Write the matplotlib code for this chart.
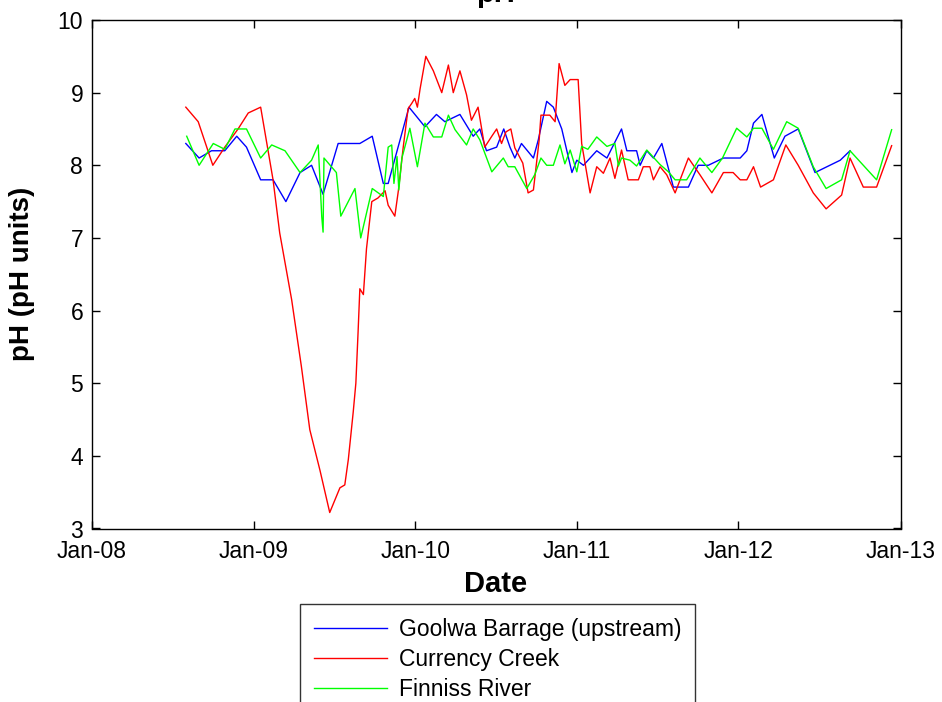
import matplotlib
matplotlib.use("Agg")
import matplotlib.pyplot as plt
import matplotlib.dates as mdates
import pandas as pd

plt.rcParams['font.family'] = ['Liberation Sans', 'DejaVu Sans']

# Goolwa Barrage (upstream)
goolwa_dates = [
    "2008-08-01", "2008-08-31", "2008-09-28", "2008-10-28", "2008-11-24", "2008-12-16",
    "2009-01-17", "2009-02-14", "2009-03-15", "2009-04-16", "2009-05-12", "2009-06-07",
    "2009-07-11", "2009-08-29", "2009-09-26", "2009-10-21", "2009-11-01", "2009-12-18",
    "2010-01-23", "2010-02-18", "2010-03-09", "2010-04-12", "2010-05-12", "2010-05-27",
    "2010-06-11", "2010-07-04", "2010-07-20", "2010-08-03", "2010-08-14", "2010-08-29",
    "2010-09-25", "2010-10-06", "2010-10-25", "2010-11-09", "2010-11-28", "2010-12-21",
    "2011-01-01", "2011-01-16", "2011-02-15", "2011-03-10", "2011-04-12", "2011-04-24",
    "2011-05-16", "2011-05-24", "2011-06-08", "2011-06-23", "2011-07-12", "2011-08-07",
    "2011-09-10", "2011-10-02", "2011-10-25", "2011-11-28", "2012-01-05", "2012-01-20",
    "2012-02-04", "2012-02-23", "2012-03-22", "2012-04-15", "2012-05-15", "2012-06-22",
    "2012-08-18", "2012-09-09",
]
goolwa_ph = [
    8.30, 8.10, 8.20, 8.20, 8.40, 8.25,
    7.80, 7.80, 7.50, 7.90, 8.00, 7.60,
    8.30, 8.30, 8.40, 7.75, 7.75, 8.80,
    8.53, 8.70, 8.60, 8.70, 8.40, 8.50,
    8.20, 8.25, 8.50, 8.25, 8.10, 8.30,
    8.10, 8.35, 8.88, 8.80, 8.50, 7.90,
    8.07, 8.00, 8.20, 8.10, 8.50, 8.20,
    8.20, 8.00, 8.20, 8.10, 8.30, 7.70,
    7.70, 8.00, 8.00, 8.10, 8.10, 8.20,
    8.58, 8.70, 8.10, 8.40, 8.50, 7.90,
    8.07, 8.20,
]

# Currency Creek
currency_dates = [
    "2008-08-01", "2008-08-29", "2008-10-01", "2008-10-28", "2008-11-27", "2008-12-20",
    "2009-01-17", "2009-02-14", "2009-03-01", "2009-03-28", "2009-04-19", "2009-05-08",
    "2009-05-31", "2009-06-22", "2009-07-15", "2009-07-26", "2009-08-03", "2009-08-14",
    "2009-08-20", "2009-08-25", "2009-08-29", "2009-09-06", "2009-09-13", "2009-09-25",
    "2009-10-09", "2009-10-25", "2009-11-01", "2009-11-16", "2009-11-24", "2009-12-05",
    "2009-12-16", "2009-12-24", "2009-12-31", "2010-01-06", "2010-01-12", "2010-01-25",
    "2010-02-11", "2010-03-02", "2010-03-17", "2010-03-28", "2010-04-12", "2010-04-27",
    "2010-05-08", "2010-05-23", "2010-06-07", "2010-06-23", "2010-07-04", "2010-07-15",
    "2010-07-25", "2010-08-05", "2010-08-14", "2010-09-01", "2010-09-13", "2010-09-25",
    "2010-10-08", "2010-10-12", "2010-11-01", "2010-11-13", "2010-11-22", "2010-12-05",
    "2010-12-17", "2011-01-04", "2011-01-12", "2011-01-31", "2011-02-15", "2011-03-02",
    "2011-03-17", "2011-03-28", "2011-04-12", "2011-04-27", "2011-05-20", "2011-05-31",
    "2011-06-15", "2011-06-23", "2011-07-08", "2011-07-23", "2011-08-11", "2011-09-10",
    "2011-10-06", "2011-11-02", "2011-11-28", "2011-12-20", "2012-01-05", "2012-01-20",
    "2012-02-04", "2012-02-20", "2012-03-20", "2012-04-17", "2012-05-15", "2012-06-18",
    "2012-07-17", "2012-08-21", "2012-09-09", "2012-10-09", "2012-11-08", "2012-12-12",
]
currency_ph = [
    8.80, 8.60, 8.00, 8.25, 8.50, 8.72,
    8.80, 7.80, 7.07, 6.15, 5.23, 4.36,
    3.80, 3.22, 3.56, 3.60, 3.95, 4.60,
    5.00, 5.70, 6.30, 6.22, 6.85, 7.50,
    7.55, 7.65, 7.45, 7.30, 7.65, 8.25,
    8.78, 8.85, 8.92, 8.80, 9.05, 9.50,
    9.30, 9.00, 9.38, 9.00, 9.30, 8.97,
    8.62, 8.80, 8.25, 8.40, 8.50, 8.30,
    8.46, 8.50, 8.24, 8.03, 7.62, 7.66,
    8.35, 8.69, 8.69, 8.60, 9.40, 9.10,
    9.18, 9.18, 8.30, 7.62, 7.98, 7.89,
    8.10, 7.82, 8.21, 7.80, 7.80, 7.98,
    7.98, 7.80, 7.98, 7.87, 7.62, 8.10,
    7.87, 7.62, 7.90, 7.90, 7.80, 7.80,
    7.98, 7.70, 7.80, 8.28, 8.00, 7.62,
    7.40, 7.59, 8.10, 7.70, 7.70, 8.27,
]

# Finniss River
finniss_dates = [
    "2008-08-03", "2008-08-31", "2008-10-02", "2008-10-28", "2008-11-20", "2008-12-16",
    "2009-01-17", "2009-02-11", "2009-03-13", "2009-04-16", "2009-05-12", "2009-05-27",
    "2009-06-04", "2009-06-07", "2009-06-09", "2009-07-07", "2009-07-17", "2009-08-18",
    "2009-08-31", "2009-09-26", "2009-10-21", "2009-11-01", "2009-11-09", "2009-11-14",
    "2009-11-21", "2009-11-25", "2009-12-02", "2009-12-20", "2010-01-06", "2010-01-23",
    "2010-02-11", "2010-03-02", "2010-03-17", "2010-04-01", "2010-04-27", "2010-05-12",
    "2010-05-27", "2010-06-23", "2010-07-19", "2010-07-30", "2010-08-14", "2010-09-10",
    "2010-09-28", "2010-10-12", "2010-10-25", "2010-11-09", "2010-11-24", "2010-12-05",
    "2010-12-17", "2011-01-01", "2011-01-12", "2011-01-26", "2011-02-15", "2011-03-10",
    "2011-03-28", "2011-04-05", "2011-04-12", "2011-05-01", "2011-05-16", "2011-06-08",
    "2011-07-08", "2011-07-27", "2011-08-11", "2011-09-06", "2011-10-06", "2011-11-02",
    "2011-11-26", "2011-12-28", "2012-01-20", "2012-02-04", "2012-02-23", "2012-03-20",
    "2012-04-19", "2012-05-15", "2012-06-18", "2012-07-17", "2012-08-21", "2012-09-09",
    "2012-11-08", "2012-12-12",
]
finniss_ph = [
    8.40, 8.00, 8.30, 8.22, 8.50, 8.50,
    8.10, 8.28, 8.20, 7.90, 8.07, 8.28,
    7.29, 7.08, 8.10, 7.90, 7.30, 7.68,
    7.00, 7.68, 7.57, 8.25, 8.28, 7.75,
    8.12, 7.66, 8.10, 8.51, 7.98, 8.58,
    8.39, 8.39, 8.69, 8.49, 8.28, 8.50,
    8.35, 7.91, 8.10, 7.98, 7.98, 7.68,
    7.87, 8.10, 8.00, 8.00, 8.28, 8.02,
    8.21, 7.91, 8.26, 8.22, 8.39, 8.26,
    8.30, 7.99, 8.10, 8.07, 7.99, 8.21,
    8.01, 7.91, 7.80, 7.80, 8.10, 7.90,
    8.10, 8.51, 8.39, 8.51, 8.51, 8.22,
    8.60, 8.51, 7.98, 7.68, 7.80, 8.20,
    7.80, 8.49,
]

series_labels = ["Goolwa Barrage (upstream)", "Currency Creek", "Finniss River"]
series_colors = ["#0000ff", "#ff0000", "#00ff00"]

fig = plt.figure(figsize=(9.42, 7.02), dpi=100)
ax = fig.add_axes([91.5 / 942, 1 - 528.5 / 702, 809 / 942, 508.5 / 702])

for dates, values, label, color in zip(
        [goolwa_dates, currency_dates, finniss_dates],
        [goolwa_ph, currency_ph, finniss_ph],
        series_labels, series_colors):
    ax.plot(pd.to_datetime(dates), values, color=color, lw=1.0, label=label)

ax.set_xlim(pd.Timestamp("2008-01-01"), pd.Timestamp("2013-01-01"))
ax.set_ylim(3, 10)
ax.set_yticks(range(3, 11))
ax.xaxis.set_major_locator(mdates.YearLocator())
ax.xaxis.set_major_formatter(mdates.DateFormatter("%b-%y"))

ax.tick_params(direction="in", length=6, width=1, top=True, right=True,
               labelsize=16.5, colors="black")
ax.tick_params(axis="x", pad=8)
ax.tick_params(axis="y", pad=6)
for spine in ax.spines.values():
    spine.set_linewidth(1.0)
    spine.set_color("black")

ax.set_title("pH", fontsize=21, fontweight="bold", pad=13)
ax.set_xlabel("Date", fontsize=21, fontweight="bold", labelpad=5)
ax.set_ylabel("pH (pH units)", fontsize=20, fontweight="bold", labelpad=16)

handles, labels = ax.get_legend_handles_labels()
leg = fig.legend(handles, labels, loc="upper center",
                 bbox_to_anchor=(497.5 / 942, 1 - 604 / 702),
                 fontsize=16.5, frameon=True, fancybox=False,
                 handlelength=3.2, handletextpad=0.5, borderpad=0.6,
                 labelspacing=0.32, borderaxespad=0)
leg.get_frame().set_edgecolor("black")
leg.get_frame().set_linewidth(1.0)

fig.savefig("out.png", dpi=100)
